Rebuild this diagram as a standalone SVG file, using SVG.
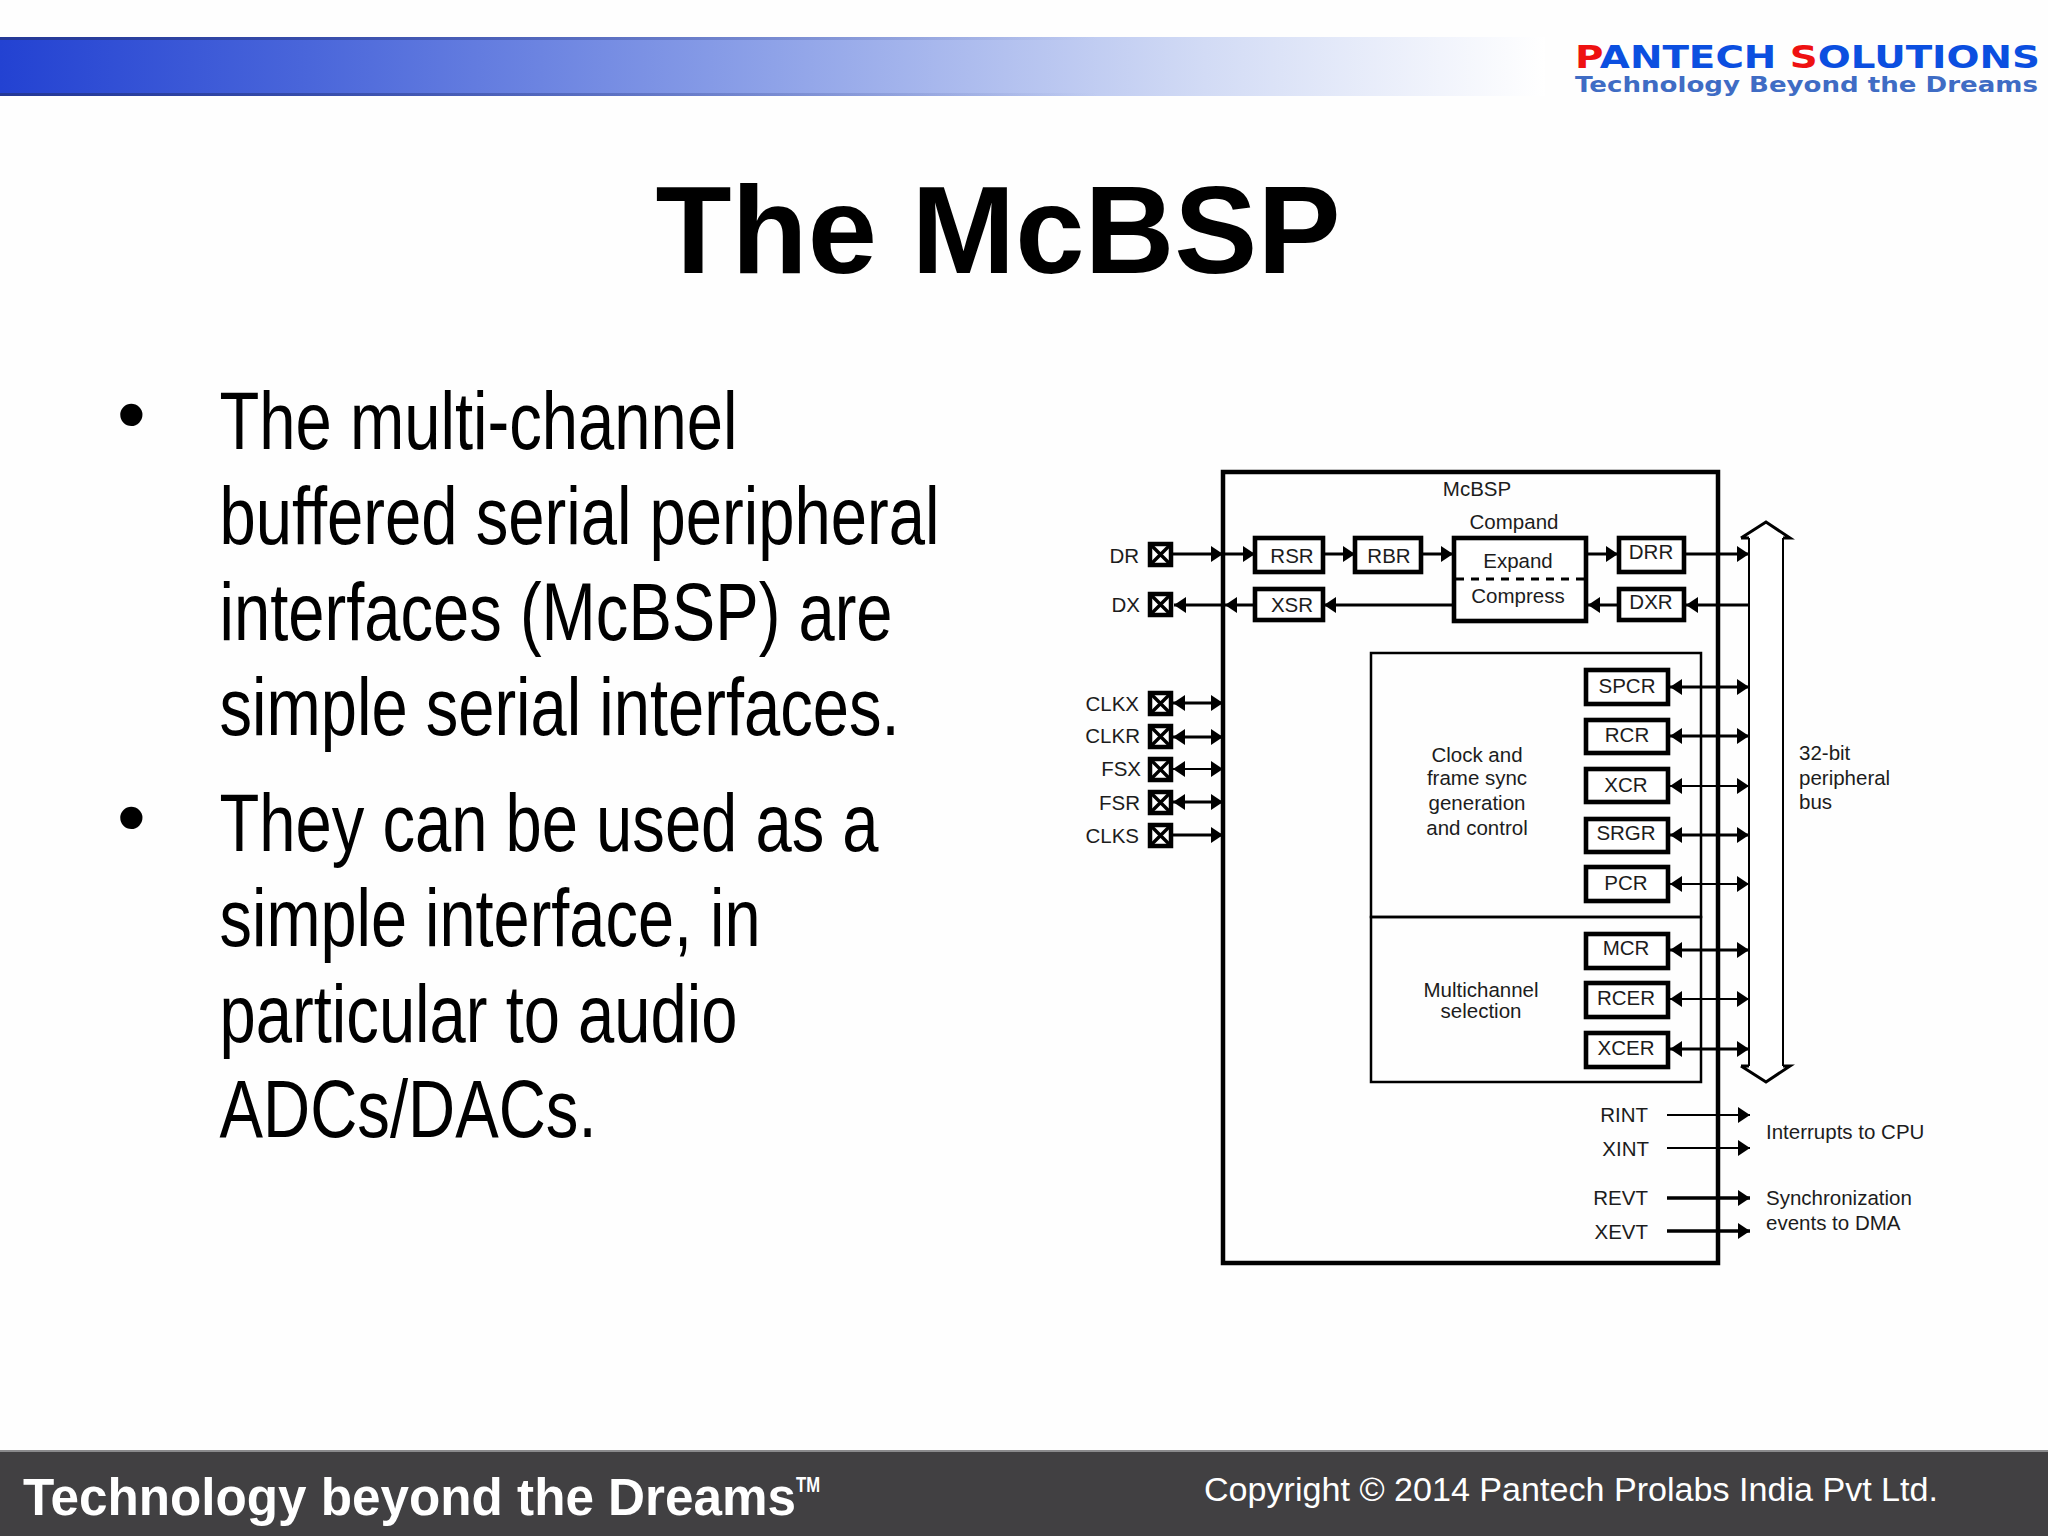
<svg xmlns="http://www.w3.org/2000/svg" width="2048" height="1536" viewBox="0 0 2048 1536">
<style>
text{font-family:"Liberation Sans",Arial,sans-serif;}
.t{font-size:20.5px;fill:#1c1c1c;}
.m{text-anchor:middle;}
.e{text-anchor:end;}
.body{font-size:82px;fill:#000;}
.box{fill:#fff;stroke:#000;stroke-width:4.6;}
.thin{fill:none;stroke:#000;stroke-width:2.5;}
.pad{fill:#fff;stroke:#000;stroke-width:4.5;}
.x{stroke:#000;stroke-width:3.4;fill:none;}
.c{fill:none;stroke:#000;stroke-width:3;}
.n{stroke-width:1.8;}
.w{stroke-width:3.6;}
.a{marker-end:url(#ah);}
.d{marker-start:url(#as);marker-end:url(#ah);}
</style>
<defs>
<linearGradient id="hdr" x1="0" x2="1" y1="0" y2="0">
<stop offset="0" stop-color="#2342d2"/>
<stop offset="0.2" stop-color="#4a66da"/>
<stop offset="0.5" stop-color="#8ea2e8"/>
<stop offset="0.78" stop-color="#d2dbf5"/>
<stop offset="1" stop-color="#ffffff"/>
</linearGradient>
<linearGradient id="edge" x1="0" x2="1" y1="0" y2="0">
<stop offset="0" stop-color="#24347c" stop-opacity="0.7"/>
<stop offset="1" stop-color="#24347c" stop-opacity="0"/>
</linearGradient>
<marker id="ah" markerUnits="userSpaceOnUse" markerWidth="13" markerHeight="16" refX="12" refY="8" orient="auto"><path d="M0 0L12 8L0 16Z" fill="#000"/></marker>
<marker id="as" markerUnits="userSpaceOnUse" markerWidth="13" markerHeight="16" refX="1" refY="8" orient="auto"><path d="M13 0L1 8L13 16Z" fill="#000"/></marker>
</defs>
<rect width="2048" height="1536" fill="#fefefe"/>
<g id="header">
<rect x="0" y="37" width="1545" height="59" fill="url(#hdr)"/>
<rect x="0" y="37" width="1100" height="3" fill="url(#edge)"/>
<rect x="0" y="93" width="1100" height="3" fill="url(#edge)"/>
<text x="1575" y="68" font-size="32" font-weight="700" textLength="465" lengthAdjust="spacingAndGlyphs" style="font-family:'DejaVu Sans',sans-serif" fill="#0b4fe0"><tspan fill="#ee1111">P</tspan>ANTECH <tspan fill="#ee1111">S</tspan>OLUTIONS</text>
<text x="1575" y="92" font-size="21" textLength="463" lengthAdjust="spacingAndGlyphs" style="font-family:'DejaVu Sans',sans-serif;font-weight:700" fill="#3f6cc4">Technology Beyond the Dreams</text>
</g>
<text id="title" x="998" y="273" font-size="124.5" font-weight="700" text-anchor="middle" fill="#000">The McBSP</text>
<g id="body">
<text class="body" x="117" y="442">•</text>
<text class="body" x="117" y="845">•</text>
<g transform="scale(0.79,1)">
<text class="body" x="277.9" y="449" textLength="655.7" lengthAdjust="spacingAndGlyphs">The multi-channel</text>
<text class="body" x="277.9" y="544" textLength="911.4" lengthAdjust="spacingAndGlyphs">buffered serial peripheral</text>
<text class="body" x="277.9" y="640" textLength="851.9" lengthAdjust="spacingAndGlyphs">interfaces (McBSP) are</text>
<text class="body" x="277.9" y="735" textLength="860.8" lengthAdjust="spacingAndGlyphs">simple serial interfaces.</text>
<text class="body" x="277.9" y="851" textLength="834.2" lengthAdjust="spacingAndGlyphs">They can be used as a</text>
<text class="body" x="277.9" y="946" textLength="684.8" lengthAdjust="spacingAndGlyphs">simple interface, in</text>
<text class="body" x="277.9" y="1042" textLength="655.7" lengthAdjust="spacingAndGlyphs">particular to audio</text>
<text class="body" x="277.9" y="1137" textLength="477.2" lengthAdjust="spacingAndGlyphs">ADCs/DACs.</text>
</g>
</g>
<g id="mcbsp"><rect x="1223" y="472" width="495" height="791" fill="none" stroke="#000" stroke-width="4.5"/>
<text class="t m" x="1477" y="496">McBSP</text></g>
<g id="clock-block"><rect x="1371" y="653" width="330" height="264" class="thin"/>
<text class="t m" x="1477" y="762">Clock and</text><text class="t m" x="1477" y="785">frame sync</text><text class="t m" x="1477" y="810">generation</text><text class="t m" x="1477" y="835">and control</text></g>
<g id="multichannel-block"><rect x="1371" y="917" width="330" height="165" class="thin"/>
<text class="t m" x="1481" y="997">Multichannel</text><text class="t m" x="1481" y="1018">selection</text></g>
<g id="bus"><path d="M1749 1066V538H1741L1766 522L1790 538H1783V1066H1790L1766 1082L1741 1066Z" fill="#fff" stroke="none"/>
<path d="M1749 538V1066M1783 538V1066" fill="none" stroke="#000" stroke-width="2"/>
<path d="M1741 538H1749M1741 538L1766 522L1790 538H1783M1741 1066H1749M1741 1066L1766 1082L1790 1066H1783" fill="none" stroke="#000" stroke-width="3"/>
<text class="t" x="1799" y="760">32-bit</text><text class="t" x="1799" y="785">peripheral</text><text class="t" x="1799" y="809">bus</text></g>
<g id="connectors">
<path class="c a" d="M1173 554H1223"/><path class="c a" d="M1223 554H1255"/>
<path class="c a" d="M1254 605H1225"/><path class="c a" d="M1225 605H1174"/>
<path class="c a" d="M1323 554H1355"/><path class="c a" d="M1421 554H1453"/>
<path class="c a" d="M1454 605H1324"/><path class="c a" d="M1586 554H1618"/>
<path class="c a" d="M1617 605H1588"/><path class="c a" d="M1685 554H1749"/>
<path class="c a" d="M1749 605H1686"/>
<path class="c d" d="M1173 703H1223"/><path class="c d" d="M1173 737H1223"/>
<path class="c d n" d="M1173 769H1223"/><path class="c d" d="M1173 802H1223"/>
<path class="c a" d="M1173 835H1223"/>
<path class="c d" d="M1670 687H1749"/><path class="c d" d="M1670 736H1749"/>
<path class="c d n" d="M1670 786H1749"/><path class="c d" d="M1670 835H1749"/>
<path class="c d n" d="M1670 884H1749"/><path class="c d" d="M1670 950H1749"/>
<path class="c d n" d="M1670 999H1749"/><path class="c d" d="M1670 1049H1749"/>
<path class="c a n" d="M1667 1115H1750"/><path class="c a n" d="M1667 1148H1750"/>
<path class="c a w" d="M1667 1198H1750"/><path class="c a w" d="M1667 1231H1750"/>
</g>
<g id="pad-dr"><rect class="pad" x="1150" y="544" width="21" height="21"/><path class="x" d="M1150 544L1171 565M1171 544L1150 565"/><text class="t e" x="1139" y="563">DR</text></g>
<g id="pad-dx"><rect class="pad" x="1150" y="594" width="21" height="21"/><path class="x" d="M1150 594L1171 615M1171 594L1150 615"/><text class="t e" x="1140" y="612">DX</text></g>
<g id="pad-clkx"><rect class="pad" x="1150" y="693" width="21" height="21"/><path class="x" d="M1150 693L1171 714M1171 693L1150 714"/><text class="t e" x="1139" y="711">CLKX</text></g>
<g id="pad-clkr"><rect class="pad" x="1150" y="726" width="21" height="21"/><path class="x" d="M1150 726L1171 747M1171 726L1150 747"/><text class="t e" x="1140" y="743">CLKR</text></g>
<g id="pad-fsx"><rect class="pad" x="1150" y="759" width="21" height="21"/><path class="x" d="M1150 759L1171 780M1171 759L1150 780"/><text class="t e" x="1141" y="776">FSX</text></g>
<g id="pad-fsr"><rect class="pad" x="1150" y="792" width="21" height="21"/><path class="x" d="M1150 792L1171 813M1171 792L1150 813"/><text class="t e" x="1140" y="810">FSR</text></g>
<g id="pad-clks"><rect class="pad" x="1150" y="825" width="21" height="21"/><path class="x" d="M1150 825L1171 846M1171 825L1150 846"/><text class="t e" x="1139" y="843">CLKS</text></g>
<g id="rsr"><rect class="box" x="1255" y="538" width="68" height="34"/><text class="t m" x="1292" y="563">RSR</text></g>
<g id="rbr"><rect class="box" x="1355" y="538" width="66" height="34"/><text class="t m" x="1389" y="563">RBR</text></g>
<g id="xsr"><rect class="box" x="1255" y="589" width="68" height="31"/><text class="t m" x="1292" y="612">XSR</text></g>
<g id="compand"><text class="t m" x="1514" y="529">Compand</text><rect class="box" x="1454" y="538" width="132" height="83"/>
<path d="M1456 579H1584" stroke="#000" stroke-width="3" stroke-dasharray="8 7" fill="none"/>
<text class="t m" x="1518" y="568">Expand</text><text class="t m" x="1518" y="603">Compress</text></g>
<g id="drr"><rect class="box" x="1619" y="538" width="65" height="34"/><text class="t m" x="1651" y="559">DRR</text></g>
<g id="dxr"><rect class="box" x="1619" y="589" width="65" height="31"/><text class="t m" x="1651" y="609">DXR</text></g>
<g id="spcr"><rect class="box" x="1586" y="670" width="82" height="34"/><text class="t m" x="1627" y="693">SPCR</text></g>
<g id="rcr"><rect class="box" x="1586" y="720" width="82" height="33"/><text class="t m" x="1627" y="742">RCR</text></g>
<g id="xcr"><rect class="box" x="1586" y="769" width="82" height="33"/><text class="t m" x="1626" y="792">XCR</text></g>
<g id="srgr"><rect class="box" x="1586" y="819" width="82" height="33"/><text class="t m" x="1626" y="840">SRGR</text></g>
<g id="pcr"><rect class="box" x="1586" y="867" width="82" height="34"/><text class="t m" x="1626" y="890">PCR</text></g>
<g id="mcr"><rect class="box" x="1586" y="934" width="82" height="34"/><text class="t m" x="1626" y="955">MCR</text></g>
<g id="rcer"><rect class="box" x="1586" y="983" width="82" height="34"/><text class="t m" x="1626" y="1005">RCER</text></g>
<g id="xcer"><rect class="box" x="1586" y="1033" width="82" height="34"/><text class="t m" x="1626" y="1055">XCER</text></g>
<g id="signals">
<text class="t e" x="1648" y="1122">RINT</text><text class="t e" x="1649" y="1156">XINT</text>
<text class="t e" x="1648" y="1205">REVT</text><text class="t e" x="1648" y="1239">XEVT</text>
<text class="t" x="1766" y="1139">Interrupts to CPU</text>
<text class="t" x="1766" y="1205">Synchronization</text><text class="t" x="1766" y="1230">events to DMA</text>
</g>
<g id="footer">
<rect x="0" y="1450" width="2048" height="86" fill="#414042"/>
<rect x="0" y="1450" width="2048" height="2" fill="#8a8a8c"/>
<text x="23" y="1515" font-size="51" font-weight="700" fill="#fff" textLength="773" lengthAdjust="spacingAndGlyphs">Technology beyond the Dreams</text>
<text x="796" y="1492" font-size="22" font-weight="700" fill="#fff" textLength="24" lengthAdjust="spacingAndGlyphs">TM</text>
<text x="1204" y="1501" font-size="34" fill="#fff" textLength="734" lengthAdjust="spacingAndGlyphs">Copyright © 2014 Pantech Prolabs India Pvt Ltd.</text>
</g>
</svg>
